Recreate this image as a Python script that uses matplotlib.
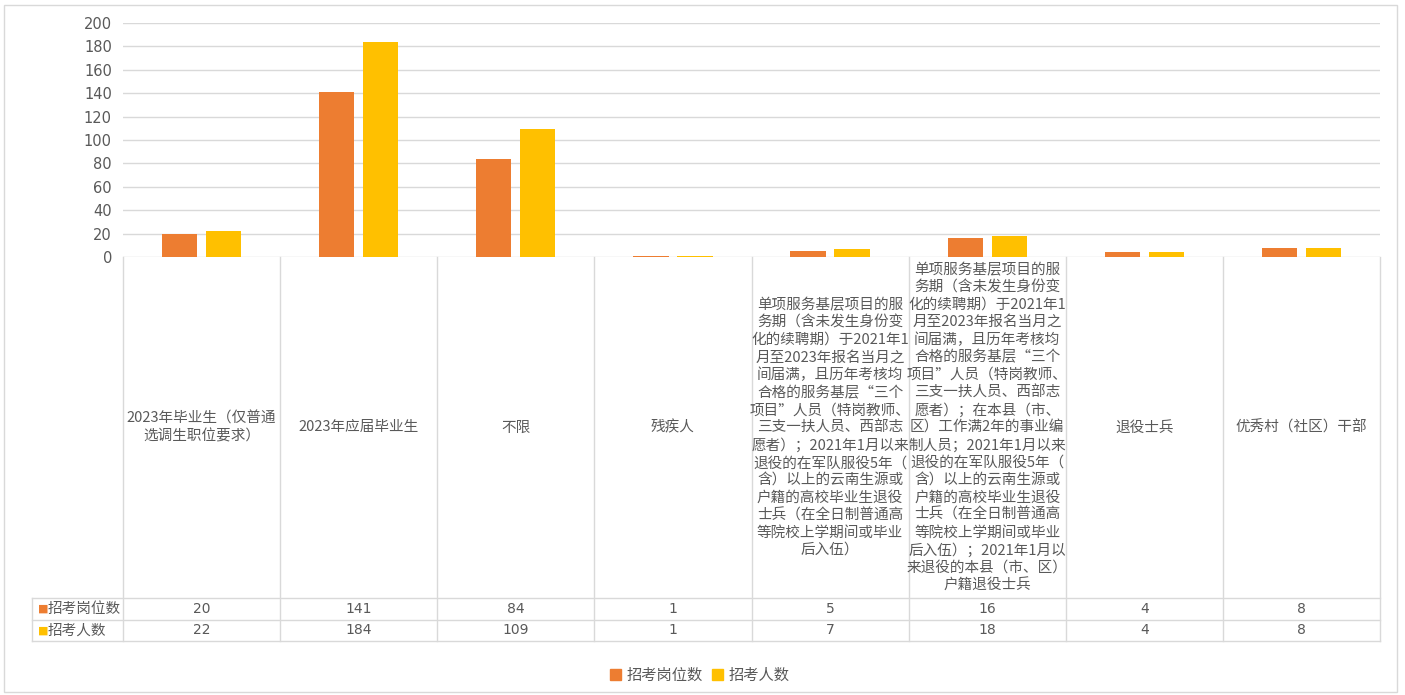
import matplotlib.pyplot as plt
import numpy as np
from matplotlib.patches import Rectangle

plt.rcParams['font.family'] = ['Noto Sans CJK SC', 'DejaVu Sans']

# data
categories = [
    "2023年毕业生（仅普通\n选调生职位要求）",
    "2023年应届毕业生",
    "不限",
    "残疾人",
    "单项服务基层项目的服\n务期（含未发生身份变\n化的续聘期）于2021年1\n月至2023年报名当月之\n间届满，且历年考核均\n合格的服务基层“三个\n项目”人员（特岗教师、\n三支一扶人员、西部志\n愿者）；2021年1月以来\n退役的在军队服役5年（\n含）以上的云南生源或\n户籍的高校毕业生退役\n士兵（在全日制普通高\n等院校上学期间或毕业\n后入伍）",
    "单项服务基层项目的服\n务期（含未发生身份变\n化的续聘期）于2021年1\n月至2023年报名当月之\n间届满，且历年考核均\n合格的服务基层“三个\n项目”人员（特岗教师、\n三支一扶人员、西部志\n愿者）；在本县（市、\n区）工作满2年的事业编\n制人员；2021年1月以来\n退役的在军队服役5年（\n含）以上的云南生源或\n户籍的高校毕业生退役\n士兵（在全日制普通高\n等院校上学期间或毕业\n后入伍）；2021年1月以\n来退役的本县（市、区）\n户籍退役士兵",
    "退役士兵",
    "优秀村（社区）干部",
]
series_names = ["招考岗位数", "招考人数"]
posts = [20, 141, 84, 1, 5, 16, 4, 8]
applicants = [22, 184, 109, 1, 7, 18, 4, 8]
colors = ["#ED7D31", "#FFC000"]
yticks = list(range(0, 201, 20))

W, H = 1405, 695
fig = plt.figure(figsize=(W / 100, H / 100), dpi=100)

def frac(x0, y0, x1, y1):
    return [x0 / W, 1 - y1 / H, (x1 - x0) / W, (y1 - y0) / H]

grey = "#595959"
line_c = "#D9D9D9"

# outer chart border
fig.patches.append(Rectangle((4 / W, 1 - 692 / H), 1393 / W, 687 / H,
                             transform=fig.transFigure, fill=False,
                             edgecolor=line_c, linewidth=1))

# bar area
ax = fig.add_axes(frac(123, 23, 1380, 257))
n = len(categories)
x = np.arange(n)
bw = 0.225
off = 0.14
ax.bar(x - off, posts, bw, color=colors[0], zorder=3)
ax.bar(x + off, applicants, bw, color=colors[1], zorder=3)
ax.set_xlim(-0.5, n - 0.5)
ax.set_ylim(0, 200)
ax.set_yticks(yticks)
ax.set_yticklabels([str(v) for v in yticks], color=grey, fontsize=10.5,
                   family='DejaVu Sans')
ax.tick_params(axis='y', length=0, pad=8)
ax.set_xticks([])
ax.grid(axis='y', color=line_c, linewidth=1, zorder=0)
for s in ax.spines.values():
    s.set_visible(False)

# data table below
left_units = (123 - 32) / ((1380 - 123) / n)
tb = fig.add_axes(frac(32, 257, 1380, 641))
tb.set_xlim(-0.5 - left_units, n - 0.5)
tb.set_ylim(641, 257)
tb.axis('off')
xl = -0.5 - left_units
for i in range(n + 1):
    tb.plot([i - 0.5, i - 0.5], [257, 641], color=line_c, lw=1, clip_on=False)
tb.plot([xl, xl], [598, 641], color=line_c, lw=1, clip_on=False)
for yy in [598, 620, 641]:
    tb.plot([xl, n - 0.5], [yy, yy], color=line_c, lw=1, clip_on=False)

for i, c in enumerate(categories):
    tb.text(i, 427.5, c, ha='center', va='center', color=grey,
            fontsize=10.5, linespacing=1.3)

rows = [posts, applicants]
row_y = [609, 630.5]
for r, (vals, yy) in enumerate(zip(rows, row_y)):
    tb.text(xl + 0.04, yy, "■", color=colors[r], fontsize=8, va='center',
            ha='left', family='DejaVu Sans')
    tb.text(xl + 0.1, yy, series_names[r], color=grey, fontsize=10.5,
            va='center', ha='left')
    for i, v in enumerate(vals):
        tb.text(i, yy, str(v), ha='center', va='center', color=grey,
                fontsize=10, family='DejaVu Sans')

# legend
handles = [Rectangle((0, 0), 1, 1, color=colors[0]),
           Rectangle((0, 0), 1, 1, color=colors[1])]
fig.legend(handles, series_names, loc='center', ncol=2,
           bbox_to_anchor=(700 / W, 1 - 675 / H), frameon=False,
           handlelength=0.7, handleheight=0.7, handletextpad=0.4,
           columnspacing=0.6, fontsize=11, labelcolor=grey)

fig.savefig("out.png", dpi=100, facecolor="white")
